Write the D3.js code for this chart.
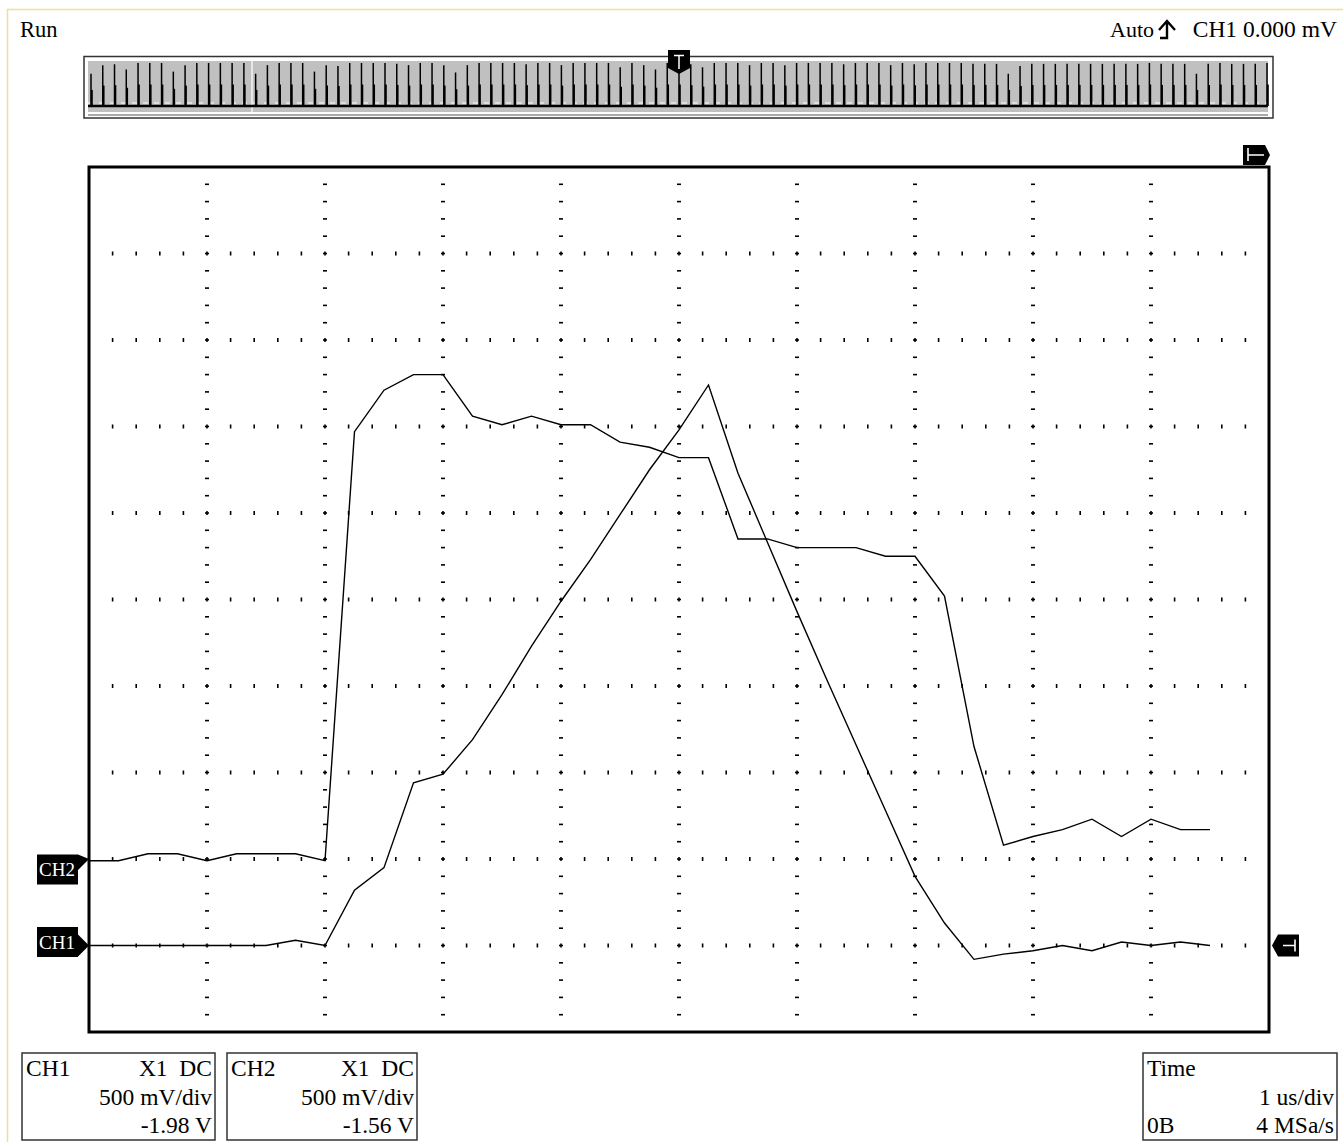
<!DOCTYPE html>
<html><head><meta charset="utf-8">
<script src="https://cdn.jsdelivr.net/npm/d3@7"></script>
<style>
body{margin:0;background:#fff}
svg{display:block}
text{font-family:"Liberation Serif","Times New Roman",serif;fill:#000;white-space:pre}
</style>
</head><body>
<svg id="c" width="1343" height="1142"></svg>
<script>
// ---- data ----
const timeUs = [-5.00,-4.75,-4.50,-4.25,-4.00,-3.75,-3.50,-3.25,-3.00,-2.75,-2.50,-2.25,-2.00,-1.75,-1.50,-1.25,-1.00,-0.75,-0.50,-0.25,0.00,0.25,0.50,0.75,1.00,1.25,1.50,1.75,2.00,2.25,2.50,2.75,3.00,3.25,3.50,3.75,4.00,4.25,4.50];
// volts relative to each channel's ground level
const ch1Volts = [0,0,0,0,0,0,0,0.03,0,0.32,0.45,0.94,0.99,1.19,1.45,1.73,1.99,2.23,2.49,2.75,2.98,3.24,2.73,2.33,1.93,1.54,1.16,0.78,0.40,0.13,-0.08,-0.05,-0.03,0,-0.03,0.02,0,0.02,0];
const ch2Volts = [-0.01,-0.01,0.03,0.03,-0.01,0.03,0.03,0.03,-0.01,2.47,2.71,2.80,2.80,2.56,2.51,2.56,2.51,2.51,2.41,2.38,2.32,2.32,1.85,1.85,1.80,1.80,1.80,1.75,1.75,1.52,0.65,0.08,0.13,0.17,0.23,0.13,0.23,0.17,0.17];
const channelNames = ["CH1","CH2"];
const channelCoupling = ["X1  DC","X1  DC"];
const channelScale = ["500 mV/div","500 mV/div"];
const channelOffsetV = [-1.98,-1.56];
const channelGroundDiv = [-4,-3];
const voltsPerDiv = 0.5;
const timeInfo = ["Time","1 us/div","0B","4 MSa/s"];
const headerLeft = "Run";
const headerRight = ["Auto","CH1 0.000 mV"];
// overview memory: relative peak heights of successive pulses
const overviewPeaks = [0.75,0.95,0.97,0.85,1,1,1,0.8,0.95,1,1,1,1,1,0.75,0.95,1,1,1,0.8,0.95,0.93,1,1,1,1,0.98,
  0.95,1,1,0.95,0.78,0.95,1,1,1,1,0.97,1,1,0.95,1,1,1,1,0.9,1,0.95,0.85,1,
  1,0.97,0.9,1,1,1,0.95,1,1,0.95,1,1,1,1,0.97,1,1,1,0.95,1,0.97,1,1,1,1,
  0.98,0.98,0.98,0.75,0.93,0.98,0.98,0.98,0.98,0.98,0.98,0.98,0.98,0.98,0.98,1,0.98,0.98,0.98,0.75,0.98,1,0.98,0.98,0.98,1];

const svg = d3.select("#c");
// window frame
svg.append("path").attr("d","M7.5,1142 V9.5 H1343").attr("fill","none").attr("stroke","#f3dca0").attr("stroke-width",1.5);

// ---- main plot ----
const L=89, R=1269, T=167, B=1032;
const x = d3.scaleLinear().domain([-5,5]).range([L,R]);
const y = d3.scaleLinear().domain([-5,5]).range([B,T]);
const xMinor = d3.range(-5,5.0001,0.2);
const yMinor = d3.range(-5,5.0001,0.2);
const major = d3.range(-4,4.0001,1);
const g = svg.append("g");
const isMajor = v => Math.abs(v-Math.round(v))<1e-6;
const edge = v => v<=-5+1e-6 || v>=5-1e-6;
major.forEach(r=>{
  xMinor.forEach(c=>{
    if (edge(c) || isMajor(c)) return;
    g.append("rect").attr("x",x(c)-0.8).attr("y",y(r)-2).attr("width",1.6).attr("height",4).attr("fill","#000");
  });
});
major.forEach(c=>{
  yMinor.forEach(r=>{
    if (edge(r)) return;
    g.append("rect").attr("x",x(c)-2).attr("y",y(r)-0.8).attr("width",4).attr("height",1.6).attr("fill","#000");
    if (isMajor(r)) g.append("rect").attr("x",x(c)-0.8).attr("y",y(r)-2).attr("width",1.6).attr("height",4).attr("fill","#000");
  });
});

// traces
const line = (vals, gnd) => d3.line().x((d,i)=>x(timeUs[i])).y(d=>y(gnd + d/voltsPerDiv))(vals);
svg.append("path").attr("d",line(ch1Volts,channelGroundDiv[0])).attr("fill","none").attr("stroke","#000").attr("stroke-width",1.4);
svg.append("path").attr("d",line(ch2Volts,channelGroundDiv[1])).attr("fill","none").attr("stroke","#000").attr("stroke-width",1.4);

// frame
svg.append("rect").attr("x",L).attr("y",T).attr("width",R-L).attr("height",B-T).attr("fill","none").attr("stroke","#000").attr("stroke-width",3);

// channel markers: box centred on offset, tip at ground level
channelNames.forEach((nm,i)=>{
  const c = y(channelOffsetV[i]/voltsPerDiv);
  const tip = y(channelGroundDiv[i]);
  const top = c-15, bot = c+15;
  const s1 = Math.max(top, tip-11), s2 = Math.min(bot, tip+11);
  const p = `M37,${top} H78 V${s1} L${L},${tip} L78,${s2} V${bot} H37 Z`;
  svg.append("path").attr("d",p).attr("fill","#000");
  svg.append("text").attr("x",39).attr("y",c+6.5).attr("font-size",19).style("fill","#fff").text(nm);
});
// trigger level marker (right)
{
  const ty = y(channelGroundDiv[0]);
  svg.append("path").attr("d",`M1272,${ty} L1278,${ty-11} H1299 V${ty+11} H1278 Z`).attr("fill","#000");
  svg.append("path").attr("d",`M1283,${ty} H1295 M1295,${ty-6} V${ty+6}`).attr("stroke","#fff").attr("stroke-width",1.6);
}
// trigger position marker (top right)
{
  svg.append("path").attr("d",`M1243,145 H1265 L1270,155 L1265,165 H1243 Z`).attr("fill","#000");
  svg.append("path").attr("d",`M1248,148 V161 M1248,155 H1264`).attr("stroke","#fff").attr("stroke-width",1.6);
}

// ---- overview ----
const ox = d3.scaleLinear().domain([0, overviewPeaks.length-1]).range([91, 1267]);
const oy = d3.scaleLinear().domain([0,1]).range([106,63]);
svg.append("rect").attr("x",84).attr("y",56.5).attr("width",1189).attr("height",61.5).attr("fill","#fff").attr("stroke","#333").attr("stroke-width",1.5);
svg.append("rect").attr("x",88).attr("y",61).attr("width",1180).attr("height",51).attr("fill","#c0c0c0");
svg.append("line").attr("x1",88).attr("x2",1268).attr("y1",115).attr("y2",115).attr("stroke","#555").attr("stroke-width",1);
svg.append("line").attr("x1",252).attr("x2",252).attr("y1",61).attr("y2",112).attr("stroke","#f4f4f4").attr("stroke-width",1.5);
svg.append("line").attr("x1",88).attr("x2",1268).attr("y1",106).attr("y2",106).attr("stroke","#000").attr("stroke-width",2.5);
svg.append("line").attr("x1",88).attr("x2",1268).attr("y1",103).attr("y2",103).attr("stroke","#fff").attr("stroke-width",1).attr("stroke-dasharray","5,6");
overviewPeaks.forEach((h,i)=>{
  svg.append("line").attr("x1",ox(i)).attr("x2",ox(i)).attr("y1",106).attr("y2",oy(h)).attr("stroke","#000").attr("stroke-width",1.5);
  svg.append("line").attr("x1",ox(i)+0.8).attr("x2",ox(i)+0.8).attr("y1",106).attr("y2",oy(h*0.5)).attr("stroke","#000").attr("stroke-width",2);
});
// trigger T marker
{
  const tx = x(0);
  svg.append("path").attr("d",`M${tx-11},50 H${tx+11} V68 L${tx},74 L${tx-11},68 Z`).attr("fill","#000");
  svg.append("path").attr("d",`M${tx-5},55.5 H${tx+5} M${tx},55.5 V69`).attr("stroke","#fff").attr("stroke-width",1.5);
}

// header text
svg.append("text").attr("x",20).attr("y",37).attr("font-size",22.5).text(headerLeft);
svg.append("text").attr("x",1337).attr("y",37).attr("font-size",23.5).attr("text-anchor","end").text(headerRight[1]);
svg.append("text").attr("x",1110).attr("y",37).attr("font-size",22).text(headerRight[0]);
// trigger edge glyph (rising edge)
svg.append("path").attr("d","M1160,38 H1167 V21 M1159,30 L1167,21 L1175,30").attr("fill","none").attr("stroke","#000").attr("stroke-width",2.4);

// ---- info boxes ----
function box(x0,x1,lines){
  svg.append("rect").attr("x",x0).attr("y",1053).attr("width",x1-x0).attr("height",87).attr("fill","#fff").attr("stroke","#333").attr("stroke-width",1.5);
  lines.forEach(([t,anchor,row])=>{
    svg.append("text").attr("x",anchor==="end"?x1-3:x0+4).attr("y",1076+row*28.5).attr("font-size",23.5).attr("text-anchor",anchor).text(t);
  });
}
const fmtV = v => v.toFixed(2) + " V";
box(22,215,[[channelNames[0],"start",0],[channelCoupling[0],"end",0],[channelScale[0],"end",1],[fmtV(channelOffsetV[0]),"end",2]]);
box(227,417,[[channelNames[1],"start",0],[channelCoupling[1],"end",0],[channelScale[1],"end",1],[fmtV(channelOffsetV[1]),"end",2]]);
box(1143,1337,[[timeInfo[0],"start",0],[timeInfo[1],"end",1],[timeInfo[2],"start",2],[timeInfo[3],"end",2]]);
</script>
</body></html>
